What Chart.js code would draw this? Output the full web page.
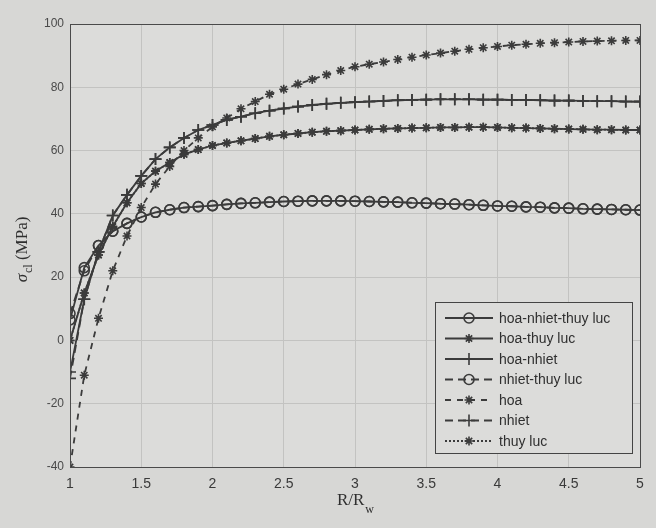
<!DOCTYPE html>
<html>
<head>
<meta charset="utf-8">
<script src="https://cdn.jsdelivr.net/npm/chart.js@4.4.1/dist/chart.umd.min.js"></script>
<style>
  html, body { margin: 0; padding: 0; background: #d7d7d5; }
  #wrap { width: 656px; height: 528px; }
</style>
</head>
<body>
<div id="wrap"><canvas id="chart" width="656" height="528"></canvas></div>
<script>
// R/Rw positions of the computed points
const rRatio = [1.0, 1.1, 1.2, 1.3, 1.4, 1.5, 1.6, 1.7, 1.8, 1.9,
    2.0, 2.1, 2.2, 2.3, 2.4, 2.5, 2.6, 2.7, 2.8, 2.9,
    3.0, 3.1, 3.2, 3.3, 3.4, 3.5, 3.6, 3.7, 3.8, 3.9,
    4.0, 4.1, 4.2, 4.3, 4.4, 4.5, 4.6, 4.7, 4.8, 4.9, 5.0];

const hoaNhietThuyLuc = [6.5, 23, 30, 34.5, 37, 39, 40.5, 41.3, 42, 42.3,
    42.6, 43, 43.3, 43.5, 43.7, 43.9, 44, 44.1, 44.1, 44.1,
    44, 43.9, 43.8, 43.7, 43.5, 43.4, 43.2, 43.1, 42.9, 42.7,
    42.5, 42.4, 42.2, 42.1, 41.9, 41.8, 41.6, 41.5, 41.4, 41.3, 41.2];

const hoaThuyLuc = [0, 15, 27, 36, 43.5, 49.6, 53.5, 56.2, 58.8, 60.3,
    61.6, 62.4, 63.1, 63.8, 64.5, 65, 65.4, 65.8, 66.1, 66.3,
    66.5, 66.7, 66.9, 67, 67.1, 67.2, 67.3, 67.3, 67.4, 67.4,
    67.3, 67.2, 67.1, 67, 66.9, 66.8, 66.7, 66.6, 66.6, 66.5, 66.5];

const hoaNhiet = [-10, 13, 28, 39.5, 46, 52, 57.3, 61, 64, 66.5,
    68.1, 69.7, 70.7, 71.8, 72.6, 73.3, 73.9, 74.4, 74.8, 75.1,
    75.3, 75.5, 75.7, 75.9, 76, 76.1, 76.2, 76.2, 76.2, 76.1,
    76.1, 76, 76, 75.9, 75.8, 75.8, 75.7, 75.6, 75.6, 75.5, 75.5];

const nhietThuyLuc = [8.5, 22, 30, 34.5, 37, 39, 40.5, 41.3, 42, 42.3,
    42.6, 43, 43.3, 43.5, 43.7, 43.9, 44, 44.1, 44.1, 44.1,
    44, 43.9, 43.8, 43.7, 43.5, 43.4, 43.2, 43.1, 42.9, 42.7,
    42.5, 42.4, 42.2, 42.1, 41.9, 41.8, 41.6, 41.5, 41.4, 41.3, 41.2];

const hoa = [-40, -11, 7, 22, 33, 42, 49.4, 55, 60, 64,
    67.5, 70.3, 73.2, 75.5, 77.8, 79.4, 81, 82.5, 84, 85.3,
    86.5, 87.3, 88, 88.8, 89.5, 90.2, 90.8, 91.4, 92, 92.5,
    92.9, 93.3, 93.6, 93.9, 94.1, 94.3, 94.5, 94.6, 94.7, 94.8, 94.8];

const nhiet = [-12, 13, 28, 39.5, 46, 52, 57.3, 61, 64, 66.5,
    68.1, 69.7, 70.7, 71.8, 72.6, 73.3, 73.9, 74.4, 74.8, 75.1,
    75.3, 75.5, 75.7, 75.9, 76, 76.1, 76.2, 76.2, 76.2, 76.1,
    76.1, 76, 76, 75.9, 75.8, 75.8, 75.7, 75.6, 75.6, 75.5, 75.5];

const thuyLuc = [0, 15, 27, 36, 43.5, 49.6, 53.5, 56.2, 58.8, 60.3,
    61.6, 62.4, 63.1, 63.8, 64.5, 65, 65.4, 65.8, 66.1, 66.3,
    66.5, 66.7, 66.9, 67, 67.1, 67.2, 67.3, 67.3, 67.4, 67.4,
    67.3, 67.2, 67.1, 67, 66.9, 66.8, 66.7, 66.6, 66.6, 66.5, 66.5];

const xTicks = [1, 1.5, 2, 2.5, 3, 3.5, 4, 4.5, 5];
const yTicks = [-40, -20, 0, 20, 40, 60, 80, 100];

const ink = "#3b3b3b";

function series(label, values, dash, pointStyle, radius) {
    return {
        label: label,
        data: rRatio.map((r, i) => ({ x: r, y: values[i] })),
        borderColor: ink,
        backgroundColor: "rgba(0,0,0,0)",
        borderWidth: 1.8,
        borderDash: dash,
        pointStyle: pointStyle,
        pointRadius: radius,
        pointBorderWidth: 1.6,
        pointBorderColor: ink,
        pointBackgroundColor: "rgba(0,0,0,0)",
        tension: 0
    };
}

const datasets = [
    series("hoa-nhiet-thuy luc", hoaNhietThuyLuc, [], "circle", 5),
    series("hoa-thuy luc", hoaThuyLuc, [], "star", 4.5),
    series("hoa-nhiet", hoaNhiet, [], "cross", 6),
    series("nhiet-thuy luc", nhietThuyLuc, [8, 5], "circle", 5),
    series("hoa", hoa, [6, 6], "star", 4.5),
    series("nhiet", nhiet, [8, 5], "cross", 6),
    series("thuy luc", thuyLuc, [2, 2], "star", 4.5)
];

// MATLAB style closed box round the axes
const boxPlugin = {
    id: "box",
    beforeDraw(chart) {
        const a = chart.chartArea;
        const ctx = chart.ctx;
        ctx.save();
        ctx.fillStyle = "#dcdcda";
        ctx.fillRect(a.left, a.top, a.right - a.left, a.bottom - a.top);
        ctx.restore();
    },
    afterDraw(chart) {
        const a = chart.chartArea;
        const ctx = chart.ctx;
        ctx.save();
        ctx.strokeStyle = "#4a4a4a";
        ctx.lineWidth = 1;
        ctx.strokeRect(a.left + 0.5, a.top + 0.5, a.right - a.left, a.bottom - a.top);
        ctx.restore();
    }
};

// axis titles with subscripts
const titlesPlugin = {
    id: "titles",
    afterDraw(chart) {
        const ctx = chart.ctx;
        const a = chart.chartArea;
        ctx.save();
        ctx.fillStyle = "#2f2f2f";
        ctx.textBaseline = "alphabetic";

        // x title: R/Rw
        const xc = (a.left + a.right) / 2;
        ctx.font = "17px 'Liberation Serif', serif";
        const main = "R/R";
        const mw = ctx.measureText(main).width;
        ctx.font = "12px 'Liberation Serif', serif";
        const sw = ctx.measureText("w").width;
        const x0 = xc - (mw + sw) / 2;
        ctx.font = "17px 'Liberation Serif', serif";
        ctx.fillText(main, x0, 505);
        ctx.font = "12px 'Liberation Serif', serif";
        ctx.fillText("w", x0 + mw + 1, 513);

        // y title: sigma_cl (MPa)
        ctx.translate(27, (a.top + a.bottom) / 2 + 4);
        ctx.rotate(-Math.PI / 2);
        ctx.font = "italic 17px 'Liberation Serif', serif";
        const s1 = "\u03c3";
        const w1 = ctx.measureText(s1).width;
        ctx.font = "12px 'Liberation Serif', serif";
        const w2 = ctx.measureText("cl").width;
        ctx.font = "17px 'Liberation Serif', serif";
        const s3 = " (MPa)";
        const w3 = ctx.measureText(s3).width;
        const p = -(w1 + w2 + 1 + w3) / 2;
        ctx.font = "italic 17px 'Liberation Serif', serif";
        ctx.fillText(s1, p, 0);
        ctx.font = "12px 'Liberation Serif', serif";
        ctx.fillText("cl", p + w1 + 1, 5);
        ctx.font = "17px 'Liberation Serif', serif";
        ctx.fillText(s3, p + w1 + 1 + w2, 0);
        ctx.restore();
    }
};

// legend box in the lower right of the axes, like MATLAB
const legendPlugin = {
    id: "matlabLegend",
    afterDraw(chart) {
        const ctx = chart.ctx;
        const bx = 435, by = 302, bw = 197, bh = 151;
        ctx.save();
        ctx.fillStyle = "#dcdcda";
        ctx.fillRect(bx, by, bw, bh);
        ctx.strokeStyle = "#444";
        ctx.lineWidth = 1;
        ctx.strokeRect(bx + 0.5, by + 0.5, bw, bh);
        ctx.font = "14px 'Liberation Sans', Arial, sans-serif";
        ctx.textBaseline = "middle";
        chart.data.datasets.forEach((ds, i) => {
            const y = by + 16 + i * 20.5;
            ctx.strokeStyle = ink;
            ctx.lineWidth = ds.borderWidth;
            ctx.setLineDash(ds.borderDash);
            ctx.beginPath();
            ctx.moveTo(bx + 10, y);
            ctx.lineTo(bx + 58, y);
            ctx.stroke();
            ctx.setLineDash([]);
            ctx.lineWidth = ds.pointBorderWidth;
            ctx.fillStyle = "rgba(0,0,0,0)";
            Chart.helpers.drawPoint(ctx, {
                pointStyle: ds.pointStyle,
                radius: ds.pointRadius,
                borderWidth: ds.pointBorderWidth,
                rotation: 0
            }, bx + 34, y);
            ctx.fillStyle = "#2f2f2f";
            ctx.fillText(ds.label, bx + 64, y + 1);
        });
        ctx.restore();
    }
};

new Chart(document.getElementById("chart"), {
    type: "line",
    data: { datasets: datasets },
    options: {
        responsive: false,
        animation: false,
        layout: { padding: { top: 24, right: 16, left: 0, bottom: 0 } },
        plugins: {
            legend: { display: false },
            tooltip: { enabled: false }
        },
        scales: {
            x: {
                type: "linear",
                min: 1,
                max: 5,
                afterFit(scale) { scale.height = 61; },
                afterBuildTicks(scale) { scale.ticks = xTicks.map(v => ({ value: v })); },
                grid: { color: "#c3c3c1", lineWidth: 1, drawTicks: false },
                border: { color: "#4a4a4a" },
                ticks: {
                    padding: 9,
                    color: "#3a3a3a",
                    font: { size: 14, family: "'Liberation Sans', Arial, sans-serif" },
                    callback: v => String(v)
                }
            },
            y: {
                type: "linear",
                min: -40,
                max: 100,
                afterFit(scale) { scale.width = 70; },
                afterBuildTicks(scale) { scale.ticks = yTicks.map(v => ({ value: v })); },
                grid: { color: "#c3c3c1", lineWidth: 1, drawTicks: false },
                border: { color: "#4a4a4a" },
                ticks: {
                    padding: 6,
                    color: "#4a4a4a",
                    font: { size: 12, family: "'Liberation Sans', Arial, sans-serif" },
                    callback: v => String(v)
                }
            }
        }
    },
    plugins: [boxPlugin, titlesPlugin, legendPlugin]
});
</script>
</body>
</html>
